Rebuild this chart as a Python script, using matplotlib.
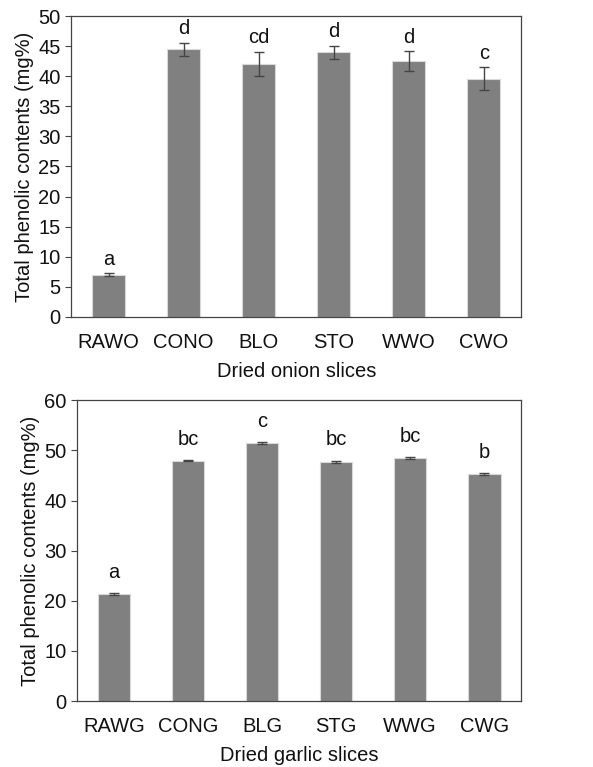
import matplotlib
matplotlib.use("Agg")
import matplotlib.pyplot as plt
import numpy as np

plt.rcParams['font.family'] = ['Liberation Sans', 'DejaVu Sans']

# Onion data
onion_labels = ["RAWO", "CONO", "BLO", "STO", "WWO", "CWO"]
onion_vals = [7.0, 44.5, 42.1, 44.0, 42.5, 39.6]
onion_err = [0.2, 1.1, 2.0, 1.1, 1.7, 1.9]
onion_letters = ["a", "d", "cd", "d", "d", "c"]

# Garlic data
garlic_labels = ["RAWG", "CONG", "BLG", "STG", "WWG", "CWG"]
garlic_vals = [21.3, 48.0, 51.5, 47.8, 48.5, 45.3]
garlic_err = [0.2, 0.15, 0.2, 0.2, 0.15, 0.15]
garlic_letters = ["a", "bc", "c", "bc", "bc", "b"]

fig = plt.figure(figsize=(5.93, 7.67), dpi=100)
FS = 14.5

def draw(ax, labels, vals, errs, letters, ymax, step, xlabel, off):
    x = np.arange(len(labels))
    ax.bar(x, vals, width=0.44, color="#808080", edgecolor="#d9d9d9", linewidth=0.8,
           yerr=errs, capsize=3.5, error_kw=dict(ecolor="#444444", elinewidth=1.0, capthick=1.0))
    for xi, v, e, t in zip(x, vals, errs, letters):
        ax.annotate(t, (xi, v + e), xytext=(0, off), textcoords="offset points",
                    ha="center", va="bottom", fontsize=FS, color="#111111")
    ax.set_xlim(-0.5, len(labels) - 0.5)
    ax.set_ylim(0, ymax)
    ax.set_yticks(np.arange(0, ymax + 0.1, step))
    ax.set_xticks(x)
    ax.set_xticklabels(labels)
    ax.tick_params(axis="x", length=0, pad=11.5, labelsize=FS, labelcolor="#111111")
    ax.tick_params(axis="y", length=4, width=0.8, color="#444444", labelsize=FS, labelcolor="#111111")
    for s in ax.spines.values():
        s.set_color("#444444")
        s.set_linewidth(0.9)
    ax.set_xlabel(xlabel, fontsize=FS, color="#111111", labelpad=7.5)
    ax.set_ylabel("Total phenolic contents (mg%)", fontsize=FS, color="#111111", labelpad=3)

ax1 = fig.add_axes([0.120, 0.587, 0.759, 0.392])
draw(ax1, onion_labels, onion_vals, onion_err, onion_letters, 50, 5, "Dried onion slices", 3.0)

ax2 = fig.add_axes([0.130, 0.086, 0.749, 0.392])
draw(ax2, garlic_labels, garlic_vals, garlic_err, garlic_letters, 60, 10, "Dried garlic slices", 8.0)

fig.savefig("out.png", dpi=100)
